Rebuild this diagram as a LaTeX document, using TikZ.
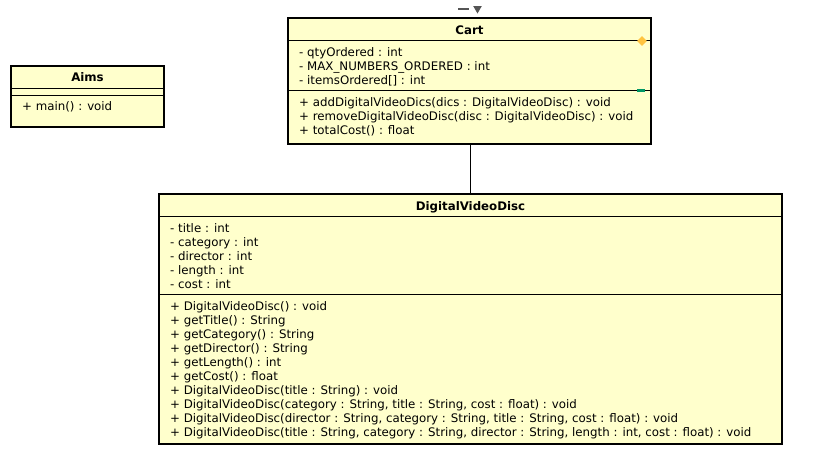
\documentclass[tikz,border=0pt]{standalone}
\usepackage{fontspec}
\setmainfont{DejaVu Sans}
\usetikzlibrary{shapes.geometric}
\definecolor{umlfill}{RGB}{255,255,204}
\definecolor{markgray}{RGB}{85,85,85}
\definecolor{diamondc}{RGB}{255,196,64}
\definecolor{greenc}{RGB}{0,150,100}
\tikzset{
  classbox/.style={draw=black, line width=2pt, fill=umlfill, rectangle, inner sep=0pt},
  sepline/.style={draw=black, line width=1pt},
  txt/.style={anchor=base west, inner sep=0pt, font=\fontsize{11.8}{13}\selectfont},
  ttl/.style={anchor=base, inner sep=0pt, font=\fontsize{11.8}{13}\selectfont\bfseries},
  conn/.style={draw=black, line width=1pt}
}
\begin{document}
\begin{tikzpicture}[x=1pt,y=-1pt]
\useasboundingbox (0,0) rectangle (824,463);
% Aims
\node[classbox, minimum width=153pt, minimum height=61pt] (aims) at (87.5,96.5) {};
\draw[sepline] (11,88) -- (164,88);
\draw[sepline] (11,95) -- (164,95);
\node[ttl] (aimst) at (87.5,81.5) {Aims};
\node[txt] (aimsm) at (22,110.5) {+ main() : void};
% Cart
\node[classbox, minimum width=363pt, minimum height=126pt] (cart) at (469.5,81) {};
\draw[sepline] (288,40) -- (651,40);
\draw[sepline] (288,90) -- (651,90);
\node[ttl] (cartt) at (469.5,34.5) {Cart};
\foreach \t [count=\i] in {{- qtyOrdered : int},{- MAX\_NUMBERS\_ORDERED : int},{- itemsOrdered[] : int}}
  \node[txt] (carta\i) at (299,{56.5+14*(\i-1)}) {\t};
\foreach \t [count=\i] in {{+ addDigitalVideoDics(dics : DigitalVideoDisc) : void},{+ removeDigitalVideoDisc(disc : DigitalVideoDisc) : void},{+ totalCost() : float}}
  \node[txt] (cartm\i) at (299,{106.5+14*(\i-1)}) {\t};
\node[diamond, fill=diamondc, inner sep=0pt, minimum width=10pt, minimum height=10pt] (dmd) at (642,41) {};
\node[rectangle, fill=greenc, inner sep=0pt, minimum width=8pt, minimum height=3pt] (grn) at (641,90) {};
% top mark
\coordinate (mk1) at (458,9);
\coordinate (mk2) at (469,9);
\draw[markgray, line width=2pt] (mk1) -- (mk2);
\node[regular polygon, regular polygon sides=3, shape border rotate=180, fill=markgray, inner sep=0pt, minimum size=10pt] (tri) at (477.5,8.5) {};
% DVD
\node[classbox, minimum width=623pt, minimum height=250pt] (dvd) at (470.5,319) {};
\draw[sepline] (159,216) -- (782,216);
\draw[sepline] (159,294) -- (782,294);
\node[ttl] (dvdt) at (470.5,210.5) {DigitalVideoDisc};
\foreach \t [count=\i] in {{- title : int},{- category : int},{- director : int},{- length : int},{- cost : int}}
  \node[txt] (dvda\i) at (170,{232.5+14*(\i-1)}) {\t};
\foreach \t [count=\i] in {{+ DigitalVideoDisc() : void},{+ getTitle() : String},{+ getCategory() : String},{+ getDirector() : String},{+ getLength() : int},{+ getCost() : float},{+ DigitalVideoDisc(title : String) : void},{+ DigitalVideoDisc(category : String, title : String, cost : float) : void},{+ DigitalVideoDisc(director : String, category : String, title : String, cost : float) : void},{+ DigitalVideoDisc(title : String, category : String, director : String, length : int, cost : float) : void}}
  \node[txt] (dvdm\i) at (170,{310.5+14*(\i-1)}) {\t};
% connector
\draw[conn] ([xshift=0.5pt]cart.south) -- ([xshift=-0.5pt]dvd.north);
\end{tikzpicture}
\end{document}
